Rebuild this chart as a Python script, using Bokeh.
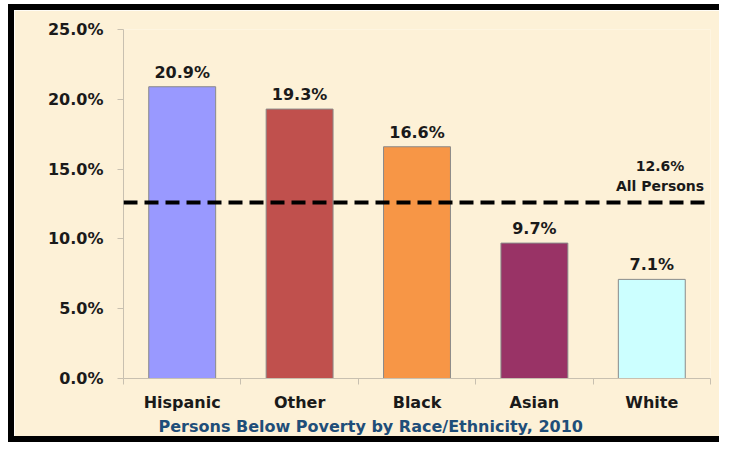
from bokeh.plotting import figure
from bokeh.layouts import column, row
from bokeh.models import (Range1d, FixedTicker, PrintfTickFormatter, Span,
                          ColumnDataSource, Title, Spacer)
from bokeh.embed import file_html
from bokeh.resources import INLINE
from bokeh.core.properties import value

categories = ["Hispanic", "Other", "Black", "Asian", "White"]
rates = [20.9, 19.3, 16.6, 9.7, 7.1]
bar_colors = ["#9999FF", "#C0504D", "#F79646", "#993366", "#CCFFFF"]
all_persons = 12.6
all_persons_label = "12.6%\nAll Persons"
y_ticks = [0, 5, 10, 15, 20, 25]
title_text = "Persons Below Poverty by Race/Ethnicity, 2010"

xs = [i + 0.5 for i in range(len(categories))]
labels = [f"{v:.1f}%" for v in rates]
src = ColumnDataSource(dict(x=xs, top=rates, color=bar_colors, label=labels))

BG = "#FDF1D7"
FONT = "DejaVu Sans"
AXIS_GREY = "#C8C0B0"
W, H, B = 705, 426, 6

p = figure(width=W, height=H,
           x_range=Range1d(0, len(categories)), y_range=Range1d(0, 25),
           output_backend="svg", toolbar_location=None,
           min_border_left=109, min_border_right=9, min_border_top=19,
           min_border_bottom=58)
p.background_fill_color = BG
p.border_fill_color = BG
p.outline_line_color = None
p.grid.visible = False

p.vbar(x="x", top="top", width=0.57, bottom=0, fill_color="color",
       line_color="#8A8A8A", line_width=1, source=src)

p.text(x="x", y="top", text="label", y_offset=-5, text_align="center",
       text_baseline="bottom", text_font=value(FONT), text_font_style="bold",
       text_font_size="16px", text_color="#1a1a1a", source=src)

p.add_layout(Span(location=all_persons, dimension="width", line_color="black",
                  line_width=4, line_dash="14 7"))
p.text(x=[4.57], y=[all_persons], text=[all_persons_label], y_offset=-9,
       text_align="center", text_baseline="bottom", text_font=value(FONT),
       text_font_style="bold", text_font_size="14px", text_color="#1a1a1a",
       text_line_height=1.2)

# y axis
ya = p.yaxis[0]
ya.ticker = FixedTicker(ticks=y_ticks)
ya.formatter = PrintfTickFormatter(format="%.1f%%")
ya.major_label_text_font = FONT
ya.major_label_text_font_style = "bold"
ya.major_label_text_font_size = "16px"
ya.major_label_text_color = "#1a1a1a"
ya.axis_line_color = AXIS_GREY
ya.major_tick_line_color = AXIS_GREY
ya.major_tick_out = 6
ya.major_tick_in = 0
ya.minor_tick_line_color = None
ya.major_label_standoff = 14

# x axis: labels at centers, ticks at boundaries (minor ticks)
xa = p.xaxis[0]
xa.ticker = FixedTicker(ticks=xs, minor_ticks=list(range(len(categories) + 1)))
xa.major_label_overrides = {x: c for x, c in zip(xs, categories)}
xa.major_label_text_font = FONT
xa.major_label_text_font_style = "bold"
xa.major_label_text_font_size = "16px"
xa.major_label_text_color = "#1a1a1a"
xa.axis_line_color = AXIS_GREY
xa.major_tick_line_color = None
xa.major_tick_out = 0
xa.major_tick_in = 0
xa.minor_tick_line_color = AXIS_GREY
xa.minor_tick_out = 6
xa.minor_tick_in = 0
xa.major_label_standoff = 8

t = Title(text=title_text, align="left", offset=35, text_font=FONT,
          text_font_style="bold", text_font_size="16px", text_color="#1F4E79",
          standoff=1)
p.add_layout(t, "below")

black = {"background-color": "black"}
top_bar = Spacer(width=W + B, height=B, styles=black)
left_bar = Spacer(width=B, height=H, styles=black)
bottom_bar = Spacer(width=W + B, height=B, styles=black)
framed = column(top_bar, row(left_bar, p, spacing=0), bottom_bar, spacing=0)
layout = column(Spacer(width=8 + W + B, height=4),
                row(Spacer(width=8, height=H + 2 * B), framed, spacing=0),
                spacing=0)

open("out.html", "w").write(file_html(layout, INLINE))
